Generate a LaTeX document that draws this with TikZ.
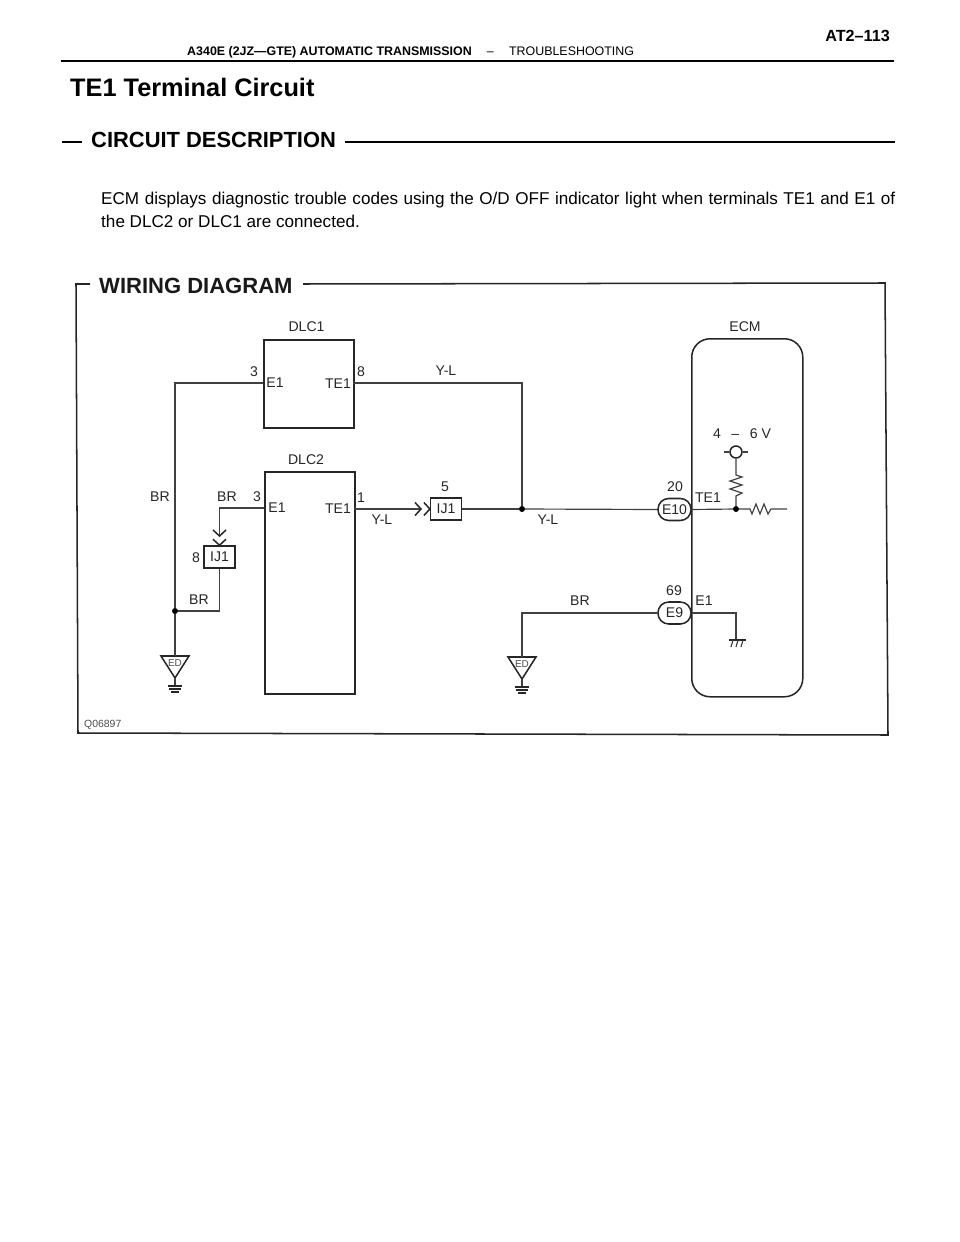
\documentclass[tikz,border=0pt]{standalone}
\usepackage{fontspec}
\setmainfont{Liberation Sans}
\newcommand{\pagefont}[2]{\fontsize{#1}{#2}\selectfont}
\tikzset{
    wire/.style={line width=1pt, black!75},
    heavy/.style={line width=1.3pt, black!85},
    label/.style={inner sep=0pt, black!85, font=\pagefont{12}{14}},
    unitbox/.style={draw, heavy, inner sep=0pt, minimum width=2.7cm, anchor=north west},
    plug/.style={draw, heavy, inner sep=0pt, minimum width=0.92cm, minimum height=0.66cm, font=\pagefont{12}{14}, text=black!85},
    oval/.style={plug, rounded corners=0.32cm, minimum width=0.99cm, fill=white},
    dotjoin/.style={circle, fill=black, inner sep=0pt, minimum size=0.18cm},
    edground/.pic={
        \coordinate (-top) at (0,0);
        \draw[heavy] (-14,0) -- (14,0) -- (0,22) -- cycle;
        \node[inner sep=0pt, black!70, font=\pagefont{8.5}{10}] (-label) at (0,7) {ED};
        \draw[wire] (0,22) -- (0,30);
        \draw[heavy] (-7,30) -- (7,30) (-6,33) -- (6,33) (-4,36) -- (4,36);
    }
}
\begin{document}
\begin{tikzpicture}[x=0.03cm, y=-0.03cm]
    \useasboundingbox (0,0) rectangle (960,1242);

    % Page header
    \node[inner sep=0pt, anchor=base east, font=\bfseries\pagefont{13.8}{16}] (pageno) at (890,42) {AT2--113};
    \node[inner sep=0pt, anchor=base west, font=\pagefont{10.6}{12}] (pagehead) at (187,56) {\textbf{A340E (2JZ---GTE) AUTOMATIC TRANSMISSION}\hspace{13pt}--\hspace{13pt}TROUBLESHOOTING};
    \draw[line width=1.1pt] (61,61) coordinate (headl) -- (894,61) coordinate (headr);

    % Titles
    \node[inner sep=0pt, anchor=base west, font=\bfseries\pagefont{21.6}{24}] (title) at (70,97) {TE1 Terminal Circuit};
    \node[inner sep=0pt, anchor=base west, font=\bfseries\pagefont{18.7}{22}] (section) at (91,148) {CIRCUIT DESCRIPTION};
    \draw[line width=1pt] (62,142) -- (82,142);
    \draw[line width=1pt] (345,142) -- (895,142);

    % Description
    \node[inner sep=0pt, anchor=north west, text width=23.82cm, align=justify, font=\pagefont{14.6}{19.5}] (descr) at (101,192)
        {ECM displays diagnostic trouble codes using the O/D OFF indicator light when terminals TE1 and E1 of\linebreak the DLC2 or DLC1 are connected.};

    % Frame
    \node[inner sep=0pt, anchor=base west, font=\bfseries\pagefont{18.8}{22}, black!90] (wiring) at (99,293) {WIRING DIAGRAM};
    \draw[heavy] (303,284) -- (885,283) -- (888,735) -- (78,733) -- (76,284) -- (90,284);
    \node[inner sep=0pt, anchor=base west, black!70, font=\pagefont{8.9}{10}] (qcode) at (84,727) {Q06897};

    % DLC1
    \node[unitbox, minimum height=2.64cm] (dlcone) at (263,339) {};
    \node[label] (dlconename) at (306.5,327) {DLC1};
    \node[label] (dlconeEone) at (275,383) {E1};
    \node[label] (dlconeTE) at (338,384) {TE1};
    \node[label] (dlconepinE) at (254,372) {3};
    \node[label] (dlconepinT) at (361,372) {8};
    \coordinate (dlconeW) at (263,383);
    \coordinate (dlconeE) at (353,383);

    % DLC2
    \node[unitbox, minimum height=6.66cm] (dlctwo) at (264,471) {};
    \node[label] (dlctwoname) at (306,460) {DLC2};
    \node[label] (dlctwoEone) at (277,508) {E1};
    \node[label] (dlctwoTE) at (338,509) {TE1};
    \node[label] (dlctwopinE) at (257,497) {3};
    \node[label] (dlctwopinT) at (361,498) {1};
    \coordinate (dlctwoW) at (264,508);
    \coordinate (dlctwoE) at (354,509);

    % ECM
    \node[draw, heavy, inner sep=0pt, anchor=north west, minimum width=3.33cm, minimum height=10.74cm, rounded corners=0.55cm] (ecm) at (691,338) {};
    \node[label] (ecmname) at (745,327) {ECM};
    \node[label] (ecmTE) at (708,498) {TE1};
    \node[label] (ecmEone) at (704,601) {E1};
    \node[label] (volts) at (742,434) {4\hspace{9pt}--\hspace{9pt}6 V};

    % Connectors
    \node[plug] (ijleft) at (219.5,557) {IJ1};
    \node[plug] (ijmid) at (446,509) {IJ1};
    \node[label] (ijleftpin) at (196,558) {8};
    \node[label] (ijmidpin) at (445,487) {5};
    \node[oval] (eten) at (674.5,509.5) {E10};
    \node[oval] (enine) at (674.5,613) {E9};
    \node[label] (etenpin) at (675,487) {20};
    \node[label] (eninepin) at (674,591) {69};

    % Grounds
    \pic (gndleft) at (175,656) {edground};
    \pic (gndmid) at (522,657) {edground};

    % Junctions
    \node[dotjoin] (joinleft) at (175,611) {};
    \node[dotjoin] (joinmid) at (522,509) {};
    \node[dotjoin] (joinecm) at (736,509) {};

    % Left wires
    \draw[wire] (dlconeW) -| (joinleft);
    \draw[wire] (joinleft) -- (gndleft-top);
    \draw[wire] (joinleft) -| (ijleft.south);
    \coordinate (jackleft) at (219.5,536);
    \draw[wire] (dlctwoW) -| (jackleft);
    \draw[heavy] (jackleft) ++(-6.5,-6) -- ++(6.5,6) -- ++(6.5,-6);
    \draw[heavy] (ijleft.north) ++(-6.5,-6) -- (ijleft.north) -- ++(6.5,-6);

    % Middle wires
    \coordinate (jackmid) at (421,509);
    \draw[wire] (dlctwoE) -- (jackmid);
    \draw[heavy] (jackmid) ++(-6,-6.5) -- ++(6,6.5) -- ++(-6,6.5);
    \draw[heavy] (ijmid.west) ++(-6,-6.5) -- (ijmid.west) -- ++(-6,6.5);
    \draw[wire] (ijmid.east) -- (joinmid);
    \draw[wire] (joinmid) -- (eten.west);
    \draw[wire] (dlconeE) -| (joinmid);
    \draw[wire] (enine.west) -| (gndmid-top);

    % Inside ECM
    \node[draw, heavy, circle, inner sep=0pt, minimum size=0.36cm] (vterm) at (736,452) {};
    \draw[wire] (724,452) -- (vterm.west) (vterm.east) -- (748,452);
    \coordinate (zigtop) at (736,475);
    \coordinate (zigend) at (736,496);
    \coordinate (zigleft) at (750,509);
    \coordinate (zigright) at (773,509);
    \coordinate (ecmend) at (787,509);
    \draw[wire] (vterm.south) -- (zigtop) -- ++(6,2) -- ++(-12,4) -- ++(12,4) -- ++(-12,4) -- ++(12,4) -- (zigend) -- (joinecm);
    \draw[wire] (eten.east) -- (joinecm) -- (zigleft) -- ++(2,5) -- ++(4,-10) -- ++(4,10) -- ++(4,-10) -- ++(4,10) -- ++(3,-5) -- (zigright) -- (ecmend);

    % E1 to case ground
    \coordinate (casegnd) at (736,640);
    \draw[wire] (enine.east) -| (casegnd);
    \draw[heavy] (729,640) -- (746,640);
    \foreach \hx in {733,738,743} {
        \draw[wire] (\hx,640) -- ++(-2,7);
    }

    % Wire labels
    \node[label] (brleft) at (160,497) {BR};
    \node[label] (brtop) at (227,497) {BR};
    \node[label] (brlow) at (199,600) {BR};
    \node[label] (brmid) at (580,601) {BR};
    \node[label] (ylup) at (446,371) {Y-L};
    \node[label] (yllow) at (382,520) {Y-L};
    \node[label] (ylmid) at (548,520) {Y-L};
\end{tikzpicture}
\end{document}
